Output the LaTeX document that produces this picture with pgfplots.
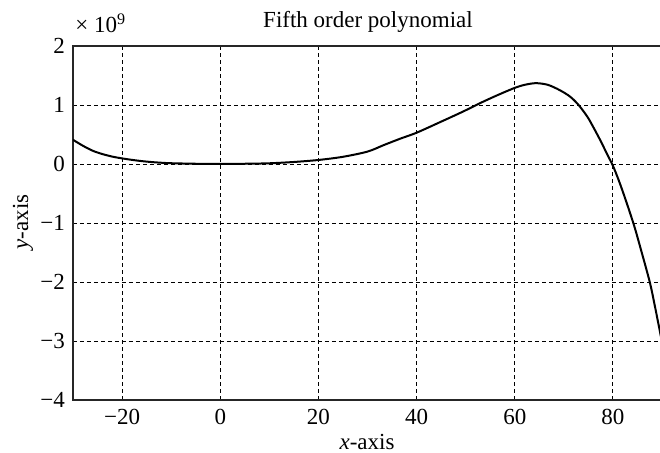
\documentclass[border=0pt]{standalone}
\usepackage{fontspec}
\setmainfont{Liberation Serif}
\usepackage{pgfplots}
\pgfplotsset{compat=1.18}
\pgfplotstableread{
x y
-30 0.41
-28 0.31
-26 0.225
-24 0.168
-22 0.125
-20 0.095
-18 0.070
-16 0.049
-14 0.033
-12 0.021
-10 0.013
-5 0.004
0 0.002
5 0.004
10 0.012
15 0.034
20 0.068
25 0.122
30 0.21
33.3 0.32
36.7 0.43
40 0.53
44.8 0.71
49.5 0.89
52.9 1.03
56.3 1.16
60 1.29
62.2 1.345
64.4 1.37
66.8 1.34
69.2 1.25
71.3 1.14
73.0 1.00
74.8 0.80
76.1 0.61
77.5 0.39
78.8 0.17
80 -0.03
81.2 -0.28
82.6 -0.61
84.3 -1.04
85.6 -1.42
87.5 -2.00
88.6 -2.43
90 -3.02
}\polydata
\begin{document}
\begin{tikzpicture}[x=1pt,y=1pt]
\clip (-36.5,-26.5) rectangle (293.5,200);
\begin{axis}[at={(0,0)},anchor=south west,
  scale only axis, width=294.5pt, height=177pt,
  xmin=-30, xmax=90, ymin=-4, ymax=2,
  xtick={-20,0,20,40,60,80}, xticklabels={−20,0,20,40,60,80},
  ytick={-4,-3,-2,-1,0,1,2}, yticklabels={−4,−3,−2,−1,0,1,2},
  grid=major,
  grid style={black, line width=0.45pt, dash pattern=on 2pt off 1.5pt},
  major tick length=0pt,
  axis line style={line width=0.7pt, black!85},
  ticklabel style={font=\fontsize{11.5}{13}\selectfont},
  xticklabel style={yshift=-1pt},
  yticklabel style={xshift=-0.5pt},
]
\addplot[black, line width=1pt, smooth, tension=0.5] table[x=x,y=y] {\polydata};
\end{axis}
\node[anchor=base, font=\fontsize{11.5}{13}\selectfont] at (147.5,186) {Fifth order polynomial};
\node[anchor=base west, font=\fontsize{11.5}{13}\selectfont, inner sep=0pt] at (1,183.5) {× 10\textsuperscript{9}};
\node[anchor=base, font=\fontsize{11.5}{13}\selectfont] at (147,-25) {\textit{x}-axis};
\node[anchor=base, rotate=90, font=\fontsize{11.5}{13}\selectfont] at (-22.5,89) {\textit{y}-axis};
\end{tikzpicture}
\end{document}
